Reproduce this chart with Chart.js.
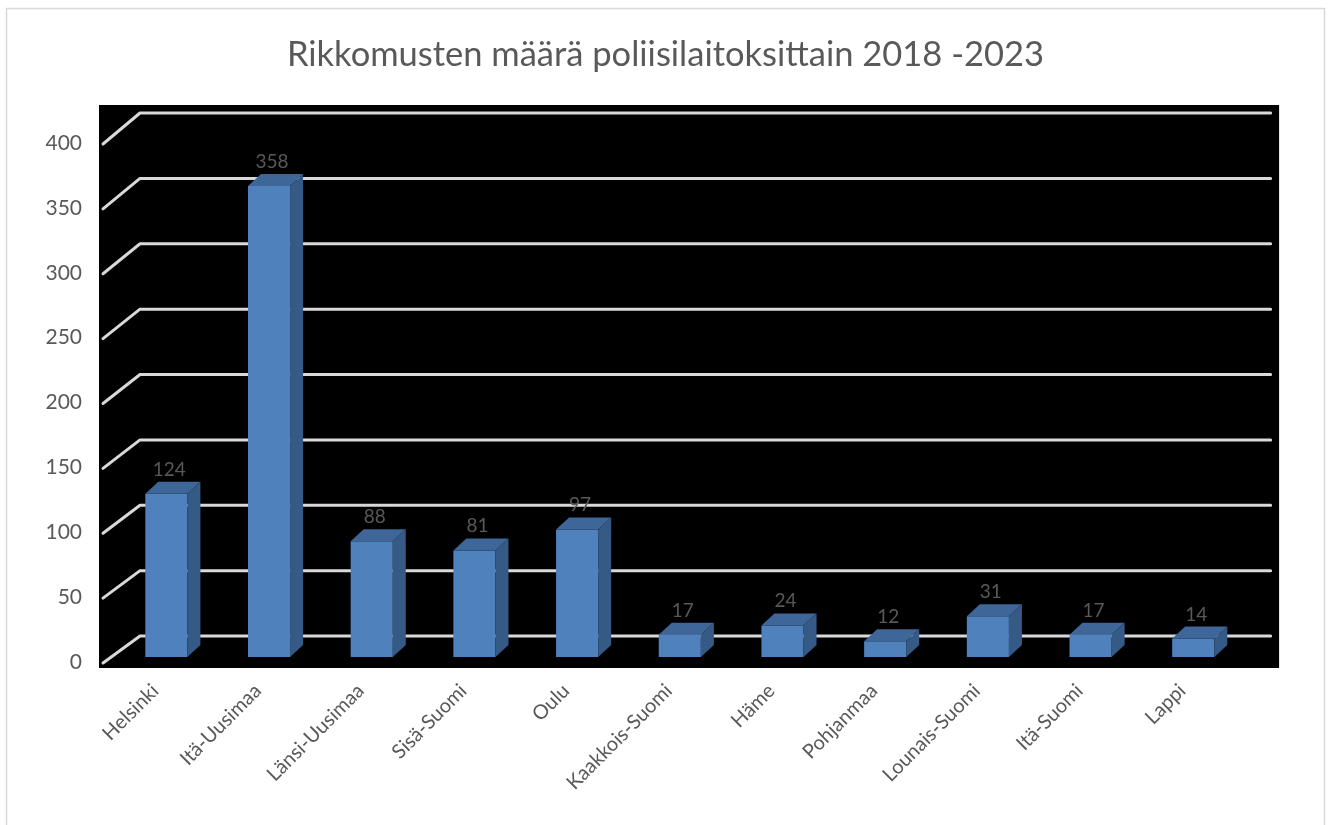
<!DOCTYPE html>
<html>
<head>
<meta charset="utf-8">
<script src="https://cdn.jsdelivr.net/npm/chart.js@4/dist/chart.umd.min.js"></script>
<style>
  html, body { margin: 0; padding: 0; background: #ffffff; }
  canvas { display: block; }
</style>
</head>
<body>
<canvas id="c" width="1331" height="825"></canvas>
<script>
// ---- data ----
const chartTitle = 'Rikkomusten määrä poliisilaitoksittain 2018 -2023';
const categories = ['Helsinki', 'Itä-Uusimaa', 'Länsi-Uusimaa', 'Sisä-Suomi', 'Oulu',
  'Kaakkois-Suomi', 'Häme', 'Pohjanmaa', 'Lounais-Suomi', 'Itä-Suomi', 'Lappi'];
const counts = [124, 358, 88, 81, 97, 17, 24, 12, 31, 17, 14];
const yTickValues = [0, 50, 100, 150, 200, 250, 300, 350, 400];

// ---- style ----
const FONT = 'Lato, "Open Sans", sans-serif';
const TEXT = '#595959';
const FRONT = '#4F81BD';
const TOP = '#3E6699';
const SIDE = '#365A86';
const GRID = '#d9d9d9';
const DEPTH_X = 13, DEPTH_Y = 12;     // bar depth offsets
const WALL_X = 26;                    // back-wall horizontal offset

const fixTicks = (scale) => { scale.ticks = yTickValues.map(v => ({ value: v })); };

const scene3d = {
  id: 'scene3d',
  beforeDraw(chart) {
    const { ctx, chartArea: a } = chart;
    ctx.save();
    ctx.fillStyle = '#ffffff';
    ctx.fillRect(0, 0, chart.width, chart.height);
    ctx.strokeStyle = '#d9d9d9';
    ctx.lineWidth = 1.5;
    ctx.strokeRect(6.5, 8.5, chart.width - 13, chart.height + 20);
    ctx.fillStyle = '#000000';
    ctx.fillRect(a.left - 16, a.top - 8, (a.right + 34.5) - (a.left - 16), (a.bottom + 6) - (a.top - 8));
    ctx.restore();
  },
  beforeDatasetsDraw(chart) {
    const { ctx, chartArea: a, scales } = chart;
    const yFront = scales.y, yBack = scales.yg;
    ctx.save();
    ctx.strokeStyle = GRID;
    ctx.lineWidth = 3;
    ctx.lineCap = 'round';
    ctx.lineJoin = 'round';
    yTickValues.forEach(v => {
      const fy = yFront.getPixelForValue(v);
      const by = yBack.getPixelForValue(v);
      ctx.beginPath();
      ctx.moveTo(a.left - 12, fy + 1);
      ctx.lineTo(a.left + WALL_X - 1, by);
      ctx.lineTo(a.right + WALL_X, by);
      ctx.stroke();
    });
    ctx.restore();
  },
  afterDatasetsDraw(chart) {
    const { ctx } = chart;
    const meta = chart.getDatasetMeta(0);
    ctx.save();
    meta.data.forEach((bar, i) => {
      const { x, y, base, width } = bar.getProps(['x', 'y', 'base', 'width'], true);
      const l = x - width / 2, r = x + width / 2;
      // top face
      ctx.fillStyle = TOP;
      ctx.beginPath();
      ctx.moveTo(l, y);
      ctx.lineTo(l + DEPTH_X, y - DEPTH_Y);
      ctx.lineTo(r + DEPTH_X, y - DEPTH_Y);
      ctx.lineTo(r, y);
      ctx.closePath();
      ctx.fill();
      // side face
      ctx.fillStyle = SIDE;
      ctx.beginPath();
      ctx.moveTo(r, y);
      ctx.lineTo(r + DEPTH_X, y - DEPTH_Y);
      ctx.lineTo(r + DEPTH_X, base - DEPTH_Y);
      ctx.lineTo(r, base);
      ctx.closePath();
      ctx.fill();
      // value label
      ctx.fillStyle = TEXT;
      ctx.font = '19px ' + FONT;
      ctx.textAlign = 'center';
      ctx.textBaseline = 'alphabetic';
      ctx.fillText(String(counts[i]), x + 3, y - DEPTH_Y - 6);
    });
    ctx.restore();
  }
};

new Chart(document.getElementById('c'), {
  type: 'bar',
  data: {
    labels: categories,
    datasets: [{
      data: counts,
      backgroundColor: FRONT,
      borderWidth: 0,
      yAxisID: 'yb',
      categoryPercentage: 1,
      barPercentage: 0.41
    }]
  },
  options: {
    responsive: false,
    animation: false,
    layout: { padding: 0 },
    plugins: {
      legend: { display: false },
      tooltip: { enabled: false },
      title: {
        display: true,
        text: chartTitle,
        color: TEXT,
        font: { family: FONT, size: 34.5, weight: 'normal' },
        padding: { top: 34, bottom: 37.6 }
      }
    },
    scales: {
      x: {
        type: 'category',
        offset: true,
        grid: { display: false, drawTicks: false },
        border: { display: false },
        ticks: {
          color: TEXT,
          font: { family: FONT, size: 20 },
          minRotation: 45,
          maxRotation: 45,
          autoSkip: false,
          padding: 17,
          labelOffset: -11
        },
        afterFit(s) { s.height = 163; }
      },
      y: {
        position: 'left',
        min: 0,
        max: 423.12,
        grid: { display: false, drawTicks: false },
        border: { display: false },
        ticks: { color: TEXT, font: { family: FONT, size: 21 }, padding: 33 },
        afterBuildTicks: fixTicks,
        afterFit(s) { s.width = 115; }
      },
      yb: {
        display: false,
        min: -3.8,
        max: 413.5,
        afterBuildTicks: fixTicks
      },
      yg: {
        position: 'right',
        display: true,
        min: -19.885,
        max: 400,
        grid: { display: false, drawTicks: false },
        border: { display: false },
        ticks: { display: false },
        afterBuildTicks: fixTicks,
        afterFit(s) { s.width = 86.4; }
      }
    }
  },
  plugins: [scene3d]
});
</script>
</body>
</html>
